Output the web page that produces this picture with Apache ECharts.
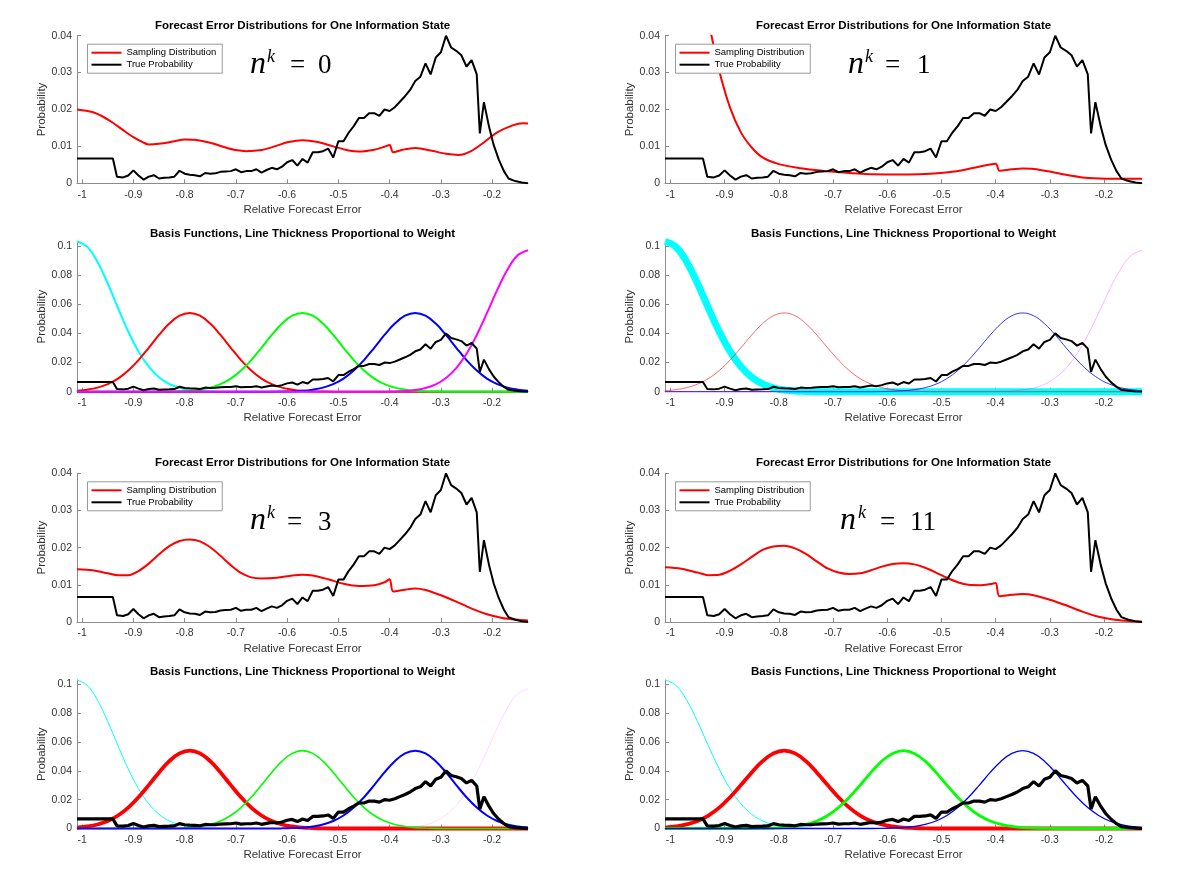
<!DOCTYPE html>
<html>
<head>
<meta charset="utf-8">
<script src="https://cdn.jsdelivr.net/npm/echarts@6/dist/echarts.min.js"></script>
<style>
  html, body { margin: 0; padding: 0; background: #fff; }
  #chart { width: 1195px; height: 874px; }
</style>
</head>
<body>
<div id="chart"></div>
<script>
// ---- data ----
const xTicks = [-1, -0.9, -0.8, -0.7, -0.6, -0.5, -0.4, -0.3, -0.2];
const yTicksDist = [0, 0.01, 0.02, 0.03, 0.04];
const yTicksBasis = [0, 0.02, 0.04, 0.06, 0.08, 0.1];

// empirical "true probability" histogram (same in every panel)
const trueX = [-1.01, -0.94, -0.932,
  -0.92, -0.91, -0.90, -0.89, -0.88, -0.87, -0.86, -0.85, -0.84, -0.83,
  -0.82, -0.81, -0.80, -0.79, -0.78, -0.77, -0.76, -0.75, -0.74, -0.73,
  -0.72, -0.71, -0.70, -0.69, -0.68, -0.67, -0.66, -0.65, -0.64, -0.63,
  -0.62, -0.61, -0.60, -0.59, -0.58, -0.57, -0.56, -0.55, -0.54, -0.53,
  -0.52, -0.51, -0.50, -0.49, -0.48, -0.47, -0.46, -0.45, -0.44, -0.43,
  -0.42, -0.41, -0.40, -0.39, -0.38, -0.37, -0.36, -0.35, -0.34, -0.33,
  -0.32, -0.31, -0.30, -0.29, -0.28, -0.27, -0.26, -0.25, -0.24, -0.23,
  -0.224, -0.216, -0.206, -0.197, -0.187, -0.177, -0.168, -0.155, -0.142, -0.13];
const trueY = [0.0067, 0.0067, 0.0018,
  0.0016, 0.0021, 0.0035, 0.0021, 0.0010, 0.0018, 0.0022, 0.0013, 0.0015, 0.0016,
  0.0018, 0.0034, 0.0026, 0.0023, 0.0022, 0.0019, 0.0028, 0.0026, 0.0027, 0.0031,
  0.0032, 0.0033, 0.0038, 0.0030, 0.0033, 0.0033, 0.0038, 0.0029, 0.0036, 0.0042,
  0.0038, 0.0045, 0.0057, 0.0063, 0.0048, 0.0066, 0.0056, 0.0084, 0.0084, 0.0087,
  0.0094, 0.0070, 0.0114, 0.0114, 0.0137, 0.0155, 0.0177, 0.0177, 0.0190, 0.0190,
  0.0183, 0.0200, 0.0196, 0.0206, 0.0221, 0.0236, 0.0253, 0.0277, 0.0289, 0.0325,
  0.0295, 0.0341, 0.0355, 0.0400, 0.0368, 0.0359, 0.0347, 0.0316, 0.0334, 0.0295,
  0.0135, 0.0220, 0.0153, 0.0104, 0.0064, 0.0033, 0.0013, 0.0006, 0.0002, 0.0000];

// sampling distributions, n^k = 0, 1, 3, 11
const samp0X = [-1.01, -0.98, -0.96, -0.94, -0.92, -0.90, -0.88, -0.87, -0.85, -0.82,
  -0.80, -0.78, -0.75, -0.72, -0.70, -0.68, -0.65, -0.62, -0.60, -0.57,
  -0.54, -0.51, -0.48, -0.46, -0.43, -0.41, -0.40, -0.393, -0.375, -0.35,
  -0.32, -0.29, -0.265, -0.24, -0.215, -0.19, -0.16, -0.14, -0.13];
const samp0Y = [0.0200, 0.0193, 0.0181, 0.0164, 0.0144, 0.0125, 0.0110, 0.0105, 0.0107, 0.0114,
  0.0119, 0.0118, 0.0110, 0.0097, 0.0090, 0.0087, 0.0090, 0.0102, 0.0111, 0.0117,
  0.0112, 0.0100, 0.0089, 0.0086, 0.0091, 0.0099, 0.0104, 0.0084, 0.0091, 0.0096,
  0.0089, 0.0080, 0.0077, 0.0088, 0.0112, 0.0138, 0.0157, 0.0163, 0.0162];

const samp1X = [-0.94, -0.925, -0.91, -0.89, -0.87, -0.85, -0.83, -0.80, -0.76, -0.72,
  -0.68, -0.64, -0.60, -0.56, -0.52, -0.48, -0.44, -0.40, -0.393, -0.37,
  -0.35, -0.33, -0.30, -0.27, -0.24, -0.21, -0.18, -0.13];
const samp1Y = [0.0510, 0.0405, 0.0305, 0.0205, 0.0138, 0.0097, 0.0070, 0.0052, 0.0041, 0.0034,
  0.0029, 0.0025, 0.0024, 0.0024, 0.0026, 0.0031, 0.0042, 0.0053, 0.0034, 0.0038,
  0.0040, 0.0039, 0.0032, 0.0023, 0.0016, 0.0013, 0.0012, 0.0012];

const samp3X = [-1.01, -0.98, -0.95, -0.93, -0.91, -0.89, -0.87, -0.85, -0.83, -0.81,
  -0.79, -0.77, -0.75, -0.73, -0.71, -0.69, -0.67, -0.65, -0.62, -0.59,
  -0.57, -0.55, -0.52, -0.49, -0.46, -0.43, -0.41, -0.40, -0.393, -0.37,
  -0.35, -0.33, -0.30, -0.27, -0.24, -0.21, -0.18, -0.15, -0.13];
const samp3Y = [0.0142, 0.0139, 0.0131, 0.0126, 0.0126, 0.0137, 0.0157, 0.0182, 0.0204, 0.0218,
  0.0222, 0.0217, 0.0201, 0.0178, 0.0153, 0.0132, 0.0120, 0.0117, 0.0119, 0.0125,
  0.0127, 0.0125, 0.0115, 0.0103, 0.0097, 0.0099, 0.0107, 0.0115, 0.0082, 0.0087,
  0.0090, 0.0086, 0.0072, 0.0055, 0.0036, 0.0021, 0.0011, 0.0006, 0.0004];

const samp11X = [-1.01, -0.98, -0.95, -0.93, -0.91, -0.89, -0.87, -0.85, -0.83, -0.81,
  -0.79, -0.77, -0.75, -0.73, -0.71, -0.69, -0.67, -0.65, -0.63, -0.61,
  -0.59, -0.57, -0.55, -0.53, -0.51, -0.49, -0.47, -0.45, -0.43, -0.41,
  -0.40, -0.393, -0.37, -0.35, -0.33, -0.30, -0.27, -0.24, -0.21, -0.18,
  -0.15, -0.13];
const samp11Y = [0.0147, 0.0143, 0.0133, 0.0126, 0.0127, 0.0138, 0.0155, 0.0175, 0.0194, 0.0203,
  0.0205, 0.0198, 0.0183, 0.0163, 0.0144, 0.0133, 0.0129, 0.0131, 0.0139, 0.0149,
  0.0156, 0.0158, 0.0155, 0.0146, 0.0133, 0.0119, 0.0107, 0.0100, 0.0099, 0.0102,
  0.0105, 0.0069, 0.0073, 0.0075, 0.0072, 0.0060, 0.0045, 0.0028, 0.0014, 0.0006,
  0.0002, 0.0001];

// basis functions sampled every 0.02
const basisX = [-1.01, -0.99, -0.97, -0.95, -0.93, -0.91, -0.89, -0.87, -0.85, -0.83,
  -0.81, -0.79, -0.77, -0.75, -0.73, -0.71, -0.69, -0.67, -0.65, -0.63,
  -0.61, -0.59, -0.57, -0.55, -0.53, -0.51, -0.49, -0.47, -0.45, -0.43,
  -0.41, -0.39, -0.37, -0.35, -0.33, -0.31, -0.29, -0.27, -0.25, -0.23,
  -0.21, -0.19, -0.17, -0.15, -0.13];
const basisCyan = [0.1030, 0.0993, 0.0890, 0.0742, 0.0574, 0.0413, 0.0276, 0.0172, 0.0099, 0.0053,
  0.0027, 0.0012, 0.0005, 0.0002, 0, 0, 0, 0, 0, 0,
  0, 0, 0, 0, 0, 0, 0, 0, 0, 0,
  0, 0, 0, 0, 0, 0, 0, 0, 0, 0,
  0, 0, 0, 0, 0];
const basisRed = [0.0006, 0.0014, 0.0028, 0.0052, 0.0090, 0.0145, 0.0217, 0.0301, 0.0389, 0.0467,
  0.0521, 0.0540, 0.0521, 0.0467, 0.0389, 0.0301, 0.0217, 0.0145, 0.0090, 0.0052,
  0.0028, 0.0014, 0.0006, 0.0003, 0.0001, 0, 0, 0, 0, 0,
  0, 0, 0, 0, 0, 0, 0, 0, 0, 0,
  0, 0, 0, 0, 0];
const basisGreen = [0, 0, 0, 0, 0, 0, 0, 0, 0, 0.0001,
  0.0003, 0.0006, 0.0014, 0.0028, 0.0052, 0.0090, 0.0145, 0.0217, 0.0301, 0.0389,
  0.0467, 0.0521, 0.0540, 0.0521, 0.0467, 0.0389, 0.0301, 0.0217, 0.0145, 0.0090,
  0.0052, 0.0028, 0.0014, 0.0006, 0.0003, 0.0001, 0, 0, 0, 0,
  0, 0, 0, 0, 0];
const basisBlue = [0, 0, 0, 0, 0, 0, 0, 0, 0, 0,
  0, 0, 0, 0, 0, 0, 0, 0, 0, 0,
  0.0001, 0.0003, 0.0006, 0.0014, 0.0028, 0.0052, 0.0090, 0.0145, 0.0217, 0.0301,
  0.0389, 0.0467, 0.0521, 0.0540, 0.0521, 0.0467, 0.0389, 0.0301, 0.0217, 0.0145,
  0.0090, 0.0052, 0.0028, 0.0014, 0.0006];
const basisMagenta = [0, 0, 0, 0, 0, 0, 0, 0, 0, 0,
  0, 0, 0, 0, 0, 0, 0, 0, 0, 0,
  0, 0, 0, 0, 0, 0, 0, 0, 0, 0,
  0, 0.0002, 0.0005, 0.0012, 0.0025, 0.0050, 0.0094, 0.0162, 0.0260, 0.0389,
  0.0540, 0.0698, 0.0838, 0.0935, 0.0970];

// ---- layout / style ----
const FONT = 'Liberation Sans, Arial, sans-serif';
const MATH = 'Liberation Serif, DejaVu Serif, serif';
const basisSets = [basisCyan, basisRed, basisGreen, basisBlue, basisMagenta];
const basisColors = ['#00ffff', '#ff0000', '#00ff00', '#0000ff', '#ff00ff'];

const cols = [{ left: 77, width: 451 }, { left: 665, width: 477 }];
const rows = [
  { top: 35.7, height: 147.6, max: 0.04 },
  { top: 241.5, height: 150.2, max: 0.103 },
  { top: 473.3, height: 148.7, max: 0.04 },
  { top: 680, height: 148.5, max: 0.103 },
];

// panel order: row by row, left then right
const panels = [
  { row: 0, col: 0, kind: 'dist', sx: samp0X, sy: samp0Y, label: '0' },
  { row: 0, col: 1, kind: 'dist', sx: samp1X, sy: samp1Y, label: '1' },
  { row: 1, col: 0, kind: 'basis', widths: [2, 2, 2, 2, 2], trueWidth: 2 },
  { row: 1, col: 1, kind: 'basis', widths: [7, 0.6, 0, 0.8, 0.3], trueWidth: 2 },
  { row: 2, col: 0, kind: 'dist', sx: samp3X, sy: samp3Y, label: '3' },
  { row: 2, col: 1, kind: 'dist', sx: samp11X, sy: samp11Y, label: '11' },
  { row: 3, col: 0, kind: 'basis', widths: [1, 3.8, 1.6, 2, 0.15], trueWidth: 3.2 },
  { row: 3, col: 1, kind: 'basis', widths: [1, 3.8, 2.8, 1.3, 0], trueWidth: 3.2 },
];

// positions of the n^k = ... annotations
const mathPos = [
  { panel: 0, base: 75, n: 250, k: 267, eq: 290, num: 318 },
  { panel: 1, base: 75, n: 848, k: 865, eq: 885, num: 917 },
  { panel: 4, base: 531.5, n: 250, k: 267, eq: 287, num: 318 },
  { panel: 5, base: 531.5, n: 840, k: 858, eq: 880, num: 910 },
];

const pairs = (xs, ys) => xs.map((x, i) => [x, ys[i]]);

const chart = echarts.init(document.getElementById('chart'));

const grid = [], xAxis = [], yAxis = [], series = [], title = [], legend = [];
const axisColor = '#8c8c8c';
const labelColor = '#333';

panels.forEach((p, g) => {
  const c = cols[p.col], r = rows[p.row];
  grid.push({ left: c.left, top: r.top, width: c.width, height: r.height, outerBoundsMode: 'none' });

  xAxis.push({
    type: 'value', gridIndex: g, min: -1.01, max: -0.13,
    name: 'Relative Forecast Error', nameLocation: 'middle', nameGap: 20.5,
    nameTextStyle: { fontFamily: FONT, fontSize: 11.5, color: labelColor },
    axisLine: { onZero: false, lineStyle: { color: axisColor, width: 1 } },
    axisTick: { inside: true, length: 4, customValues: xTicks, lineStyle: { color: axisColor } },
    axisLabel: { customValues: xTicks, margin: 6, fontFamily: FONT, fontSize: 10.5, color: labelColor },
    splitLine: { show: false },
  });
  const yt = p.kind === 'dist' ? yTicksDist : yTicksBasis;
  yAxis.push({
    type: 'value', gridIndex: g, min: 0, max: r.max,
    name: 'Probability', nameLocation: 'middle', nameGap: 29,
    nameTextStyle: { fontFamily: FONT, fontSize: 11.5, color: labelColor },
    axisLine: { show: true, onZero: false, lineStyle: { color: axisColor, width: 1 } },
    axisTick: { show: true, inside: true, length: 4, customValues: yt, lineStyle: { color: axisColor } },
    axisLabel: { customValues: yt, margin: 5, fontFamily: FONT, fontSize: 10.5, color: labelColor },
    splitLine: { show: false },
  });

  title.push({
    text: p.kind === 'dist' ? 'Forecast Error Distributions for One Information State'
                            : 'Basis Functions, Line Thickness Proportional to Weight',
    left: c.left + c.width / 2, textAlign: 'center',
    top: r.top - (p.kind === 'dist' ? 16 : 14),
    padding: 0,
    textStyle: { fontFamily: FONT, fontSize: 11.5, fontWeight: 'bold', color: '#000' },
  });

  if (p.kind === 'dist') {
    series.push({
      type: 'line', name: 'Sampling Distribution', xAxisIndex: g, yAxisIndex: g,
      data: pairs(p.sx, p.sy), smooth: 0.3, symbol: 'none', clip: true,
      lineStyle: { color: '#ff0000', width: 2 }, itemStyle: { color: '#ff0000' },
    });
    series.push({
      type: 'line', name: 'True Probability', xAxisIndex: g, yAxisIndex: g,
      data: pairs(trueX, trueY), symbol: 'none', clip: true,
      lineStyle: { color: '#000000', width: 2 }, itemStyle: { color: '#000000' },
    });
    legend.push({
      data: ['Sampling Distribution', 'True Probability'],
      orient: 'vertical', left: c.left + 10.5, top: r.top + 8.5,
      icon: 'rect', itemWidth: 30, itemHeight: 2, itemGap: 1,
      padding: [3, 6, 3, 4],
      backgroundColor: '#fff', borderColor: '#999', borderWidth: 1, borderRadius: 0,
      selectedMode: false,
      textStyle: { fontFamily: FONT, fontSize: 9.5, color: '#000', lineHeight: 11 },
    });
  } else {
    basisSets.forEach((b, j) => {
      const w = p.widths[j];
      series.push({
        type: 'line', name: 'basis' + j, xAxisIndex: g, yAxisIndex: g,
        data: pairs(basisX, b), smooth: 0.4, symbol: 'none', clip: false,
        lineStyle: { color: basisColors[j], width: w, opacity: w > 0 ? 1 : 0 },
      });
    });
    series.push({
      type: 'line', name: 'True Probability', xAxisIndex: g, yAxisIndex: g,
      data: pairs(trueX, trueY), symbol: 'none', clip: true,
      lineStyle: { color: '#000000', width: p.trueWidth },
    });
  }
});

// n^k = value annotations
const graphic = [];
mathPos.forEach(m => {
  const p = panels[m.panel];
  graphic.push({ type: 'text', x: m.n, y: m.base - 10.5,
    style: { text: 'n', font: 'italic 32px ' + MATH, fill: '#000', verticalAlign: 'middle' } });
  graphic.push({ type: 'text', x: m.k, y: m.base - 18,
    style: { text: 'k', font: 'italic 18px ' + MATH, fill: '#000', verticalAlign: 'middle' } });
  graphic.push({ type: 'text', x: m.eq, y: m.base - 9,
    style: { text: '=', font: '27px ' + MATH, fill: '#000', verticalAlign: 'middle' } });
  graphic.push({ type: 'text', x: m.num, y: m.base - 9,
    style: { text: p.label, font: '27px ' + MATH, fill: '#000', verticalAlign: 'middle' } });
});

chart.setOption({
  backgroundColor: '#ffffff',
  animation: false,
  title, legend, grid, xAxis, yAxis, series, graphic,
});
</script>
</body>
</html>
